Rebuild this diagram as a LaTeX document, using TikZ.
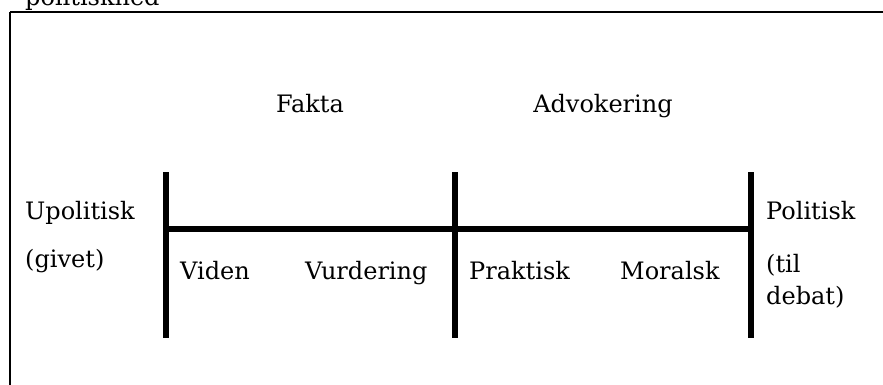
\documentclass[tikz,border=0pt]{standalone}
\usepackage{fontspec}
\setmainfont{DejaVu Serif}
\begin{document}
\begin{tikzpicture}[x=1pt,y=-1pt,
  lbl/.style={anchor=base west,inner sep=0pt,font=\fontsize{24}{28}\selectfont},
  clbl/.style={anchor=base,inner sep=0pt,font=\fontsize{24}{28}\selectfont},
  bar/.style={line width=6pt},
  frame/.style={line width=2pt}]
\useasboundingbox (0,0) rectangle (883,385);
\draw[frame] (10,12) -- (900,12);
\draw[frame] (10,12) -- (10,400);
\node[lbl] (ph) at (25,6) {politiskhed};
\coordinate (t1) at (166,172);
\coordinate (b1) at (166,338);
\coordinate (t2) at (455,172);
\coordinate (b2) at (455,338);
\coordinate (t3) at (751,172);
\coordinate (b3) at (751,338);
\coordinate (m1) at (166,229);
\coordinate (m3) at (751,229);
\draw[bar] (t1) -- (b1);
\draw[bar] (t2) -- (b2);
\draw[bar] (t3) -- (b3);
\draw[bar] (m1) -- (m3);
\node[clbl] (fakta) at (310,113) {Fakta};
\node[clbl] (adv) at (603,113) {Advokering};
\node[lbl] (upol) at (25,219) {Upolitisk};
\node[lbl] (givet) at (25,267) {(givet)};
\node[lbl] (viden) at (180,279) {Viden};
\node[lbl] (vurd) at (305,279) {Vurdering};
\node[lbl] (prak) at (469,279) {Praktisk};
\node[lbl] (moral) at (620,279) {Moralsk};
\node[lbl] (pol) at (766,219) {Politisk};
\node[lbl] (til) at (766,272) {(til};
\node[lbl] (debat) at (766,304) {debat)};
\end{tikzpicture}
\end{document}
